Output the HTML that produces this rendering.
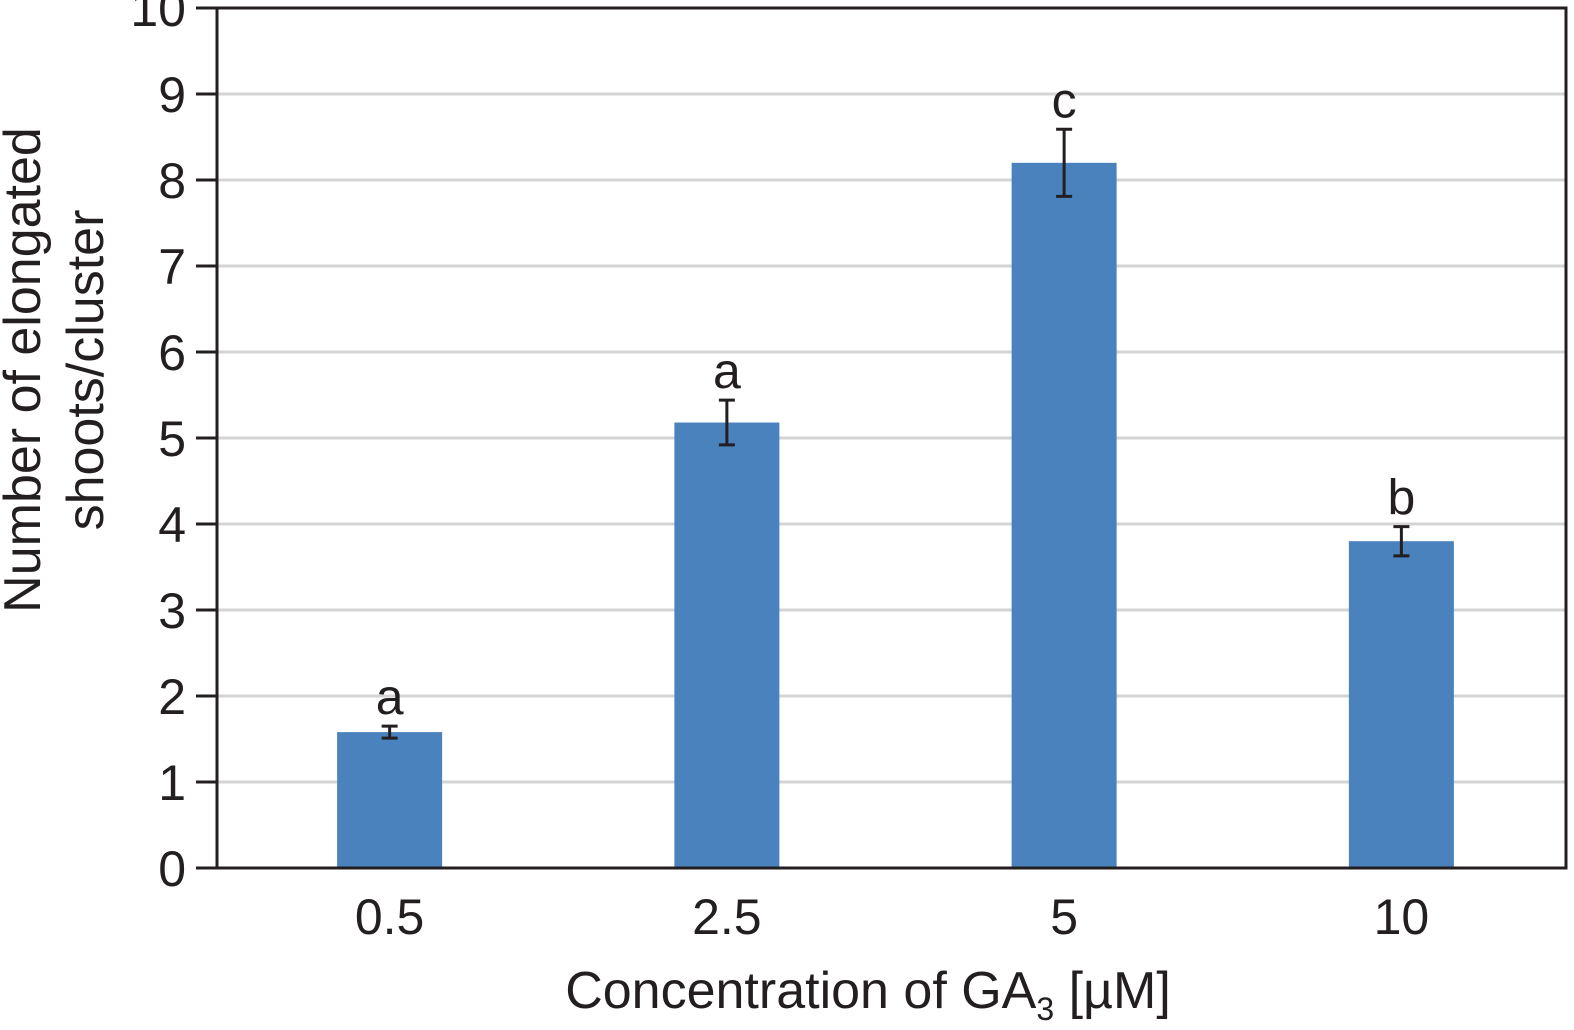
<!DOCTYPE html>
<html><head><meta charset="utf-8"><style>
html,body{margin:0;padding:0;background:#fff;}
svg{display:block;font-family:"Liberation Sans",sans-serif;}
</style></head><body>
<svg id="chart" width="1574" height="1030" viewBox="0 0 1574 1030">
<g id="grid"></g>
<g id="bars"></g>
<g id="axes"></g>
<text x="868" y="1008" text-anchor="middle" font-size="52" fill="#231f20">Concentration of GA<tspan font-size="32" dy="12">3</tspan><tspan dy="-12"> [µM]</tspan></text>
<text transform="translate(40,370) rotate(-90)" text-anchor="middle" font-size="52" fill="#231f20">Number of elongated</text>
<text transform="translate(103,370) rotate(-90)" text-anchor="middle" font-size="52" fill="#231f20">shoots/cluster</text>
</svg>
<script>
const categories = ["0.5","2.5","5","10"];
const values = [1.58, 5.18, 8.2, 3.8];
const errors = [0.07, 0.26, 0.39, 0.17];
const letters = ["a","a","c","b"];
const yTicks = [0,1,2,3,4,5,6,7,8,9,10];

const NS="http://www.w3.org/2000/svg";
const L=217,R=1566,T=8,B=868,ymax=10;
const y=v=>B-(B-T)*v/ymax;
const band=(R-L)/categories.length;
const x=i=>L+4+band*(i+0.5);
const bw=105;
function mk(tag,attrs,parent){const e=document.createElementNS(NS,tag);for(const k in attrs)e.setAttribute(k,attrs[k]);document.getElementById(parent).appendChild(e);return e;}
yTicks.forEach(t=>{
  if(t>0&&t<10){const g=mk('line',{x1:L,x2:R,y1:y(t),y2:y(t),stroke:'#d4d4d4','stroke-width':3},'grid');
  
  }
  const tk=mk('line',{x1:196,x2:L,y1:y(t),y2:y(t),stroke:'#231f20','stroke-width':3},'axes');
  
  
  const lb=mk('text',{x:186,y:y(t)+18,'text-anchor':'end','font-size':50,fill:'#231f20'},'axes');
  lb.textContent=t;
  
  
});
categories.forEach((c,i)=>{
  const cx=x(i);
  const r=mk('rect',{x:cx-bw/2,y:y(values[i]),width:bw,height:B-y(values[i]),fill:'#4a82bd'},'bars');
  
  
  const hi=y(values[i]+errors[i]),lo=y(values[i]-errors[i]);
  const e=mk('path',{d:`M${cx-8},${hi}H${cx+8}M${cx},${hi}V${lo}M${cx-8},${lo}H${cx+8}`,stroke:'#231f20','stroke-width':3,fill:'none'},'bars');
  
  
  const lt=mk('text',{x:cx,y:hi-12,'text-anchor':'middle','font-size':50,fill:'#231f20'},'bars');
  lt.textContent=letters[i];
  
  
  const xl=mk('text',{x:cx,y:934,'text-anchor':'middle','font-size':50,fill:'#231f20'},'axes');
  xl.textContent=c;
  
  
});
const fr=mk('rect',{x:L,y:T,width:R-L,height:B-T,fill:'none',stroke:'#231f20','stroke-width':3},'axes');


</script>
</body></html>
